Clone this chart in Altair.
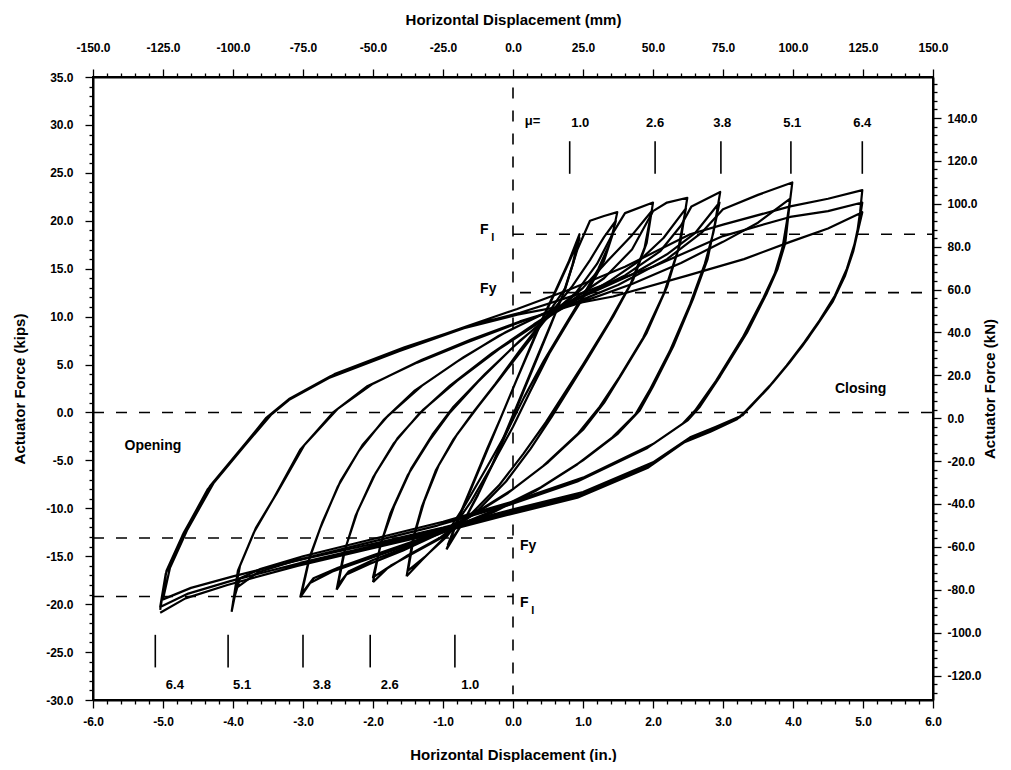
import altair as alt
import pandas as pd

# ---------------- hysteresis loops (displacement in., force kips) ----------------
# level mu=1.0 (+-0.95 in.)
L1_up_1 = [(-0.95,-14.3),(-0.8,-11.5),(-0.6,-8.0),(-0.4,-4.5),(-0.2,-1.0),(0.0,2.5),(0.2,6.0),(0.4,9.5),(0.6,12.6),(0.8,15.8),(0.95,18.6)]
L1_dn_1 = [(0.95,18.6),(0.85,15.4),(0.7,12.0),(0.5,8.5),(0.3,5.0),(0.1,1.5),(-0.1,-2.0),(-0.3,-5.5),(-0.5,-8.6),(-0.72,-11.6),(-0.93,-13.8)]
L1_up_2 = [(-0.93,-13.8),(-0.78,-11.0),(-0.58,-7.5),(-0.37,-3.8),(-0.16,-0.3),(0.04,3.2),(0.24,6.6),(0.44,10.0),(0.64,13.1),(0.82,16.0),(0.95,18.2)]
L1_dn_2 = [(0.95,18.2),(0.86,15.6),(0.73,12.6),(0.55,9.3),(0.36,5.9),(0.16,2.4),(-0.04,-1.2),(-0.25,-4.8),(-0.47,-8.1),(-0.7,-11.3),(-0.95,-14.3)]

# level +-1.5 in.
L2_up_1 = [(-1.52,-17.1),(-1.43,-13.2),(-1.3,-9.8),(-1.1,-6.0),(-0.85,-2.8),(-0.57,0.0),(-0.25,3.0),(0.1,6.5),(0.45,9.8),(0.75,13.0),(0.92,17.0),(1.1,20.0),(1.3,20.5),(1.49,20.9)]
L2_dn_1 = [(1.49,20.9),(1.42,18.5),(1.3,15.8),(1.1,13.1),(0.81,9.7),(0.53,6.3),(0.24,2.1),(0.0,-1.5),(-0.3,-5.5),(-0.6,-9.3),(-0.94,-12.9),(-1.25,-15.0),(-1.5,-16.5)]
L2_up_2 = [(-1.5,-16.5),(-1.41,-12.8),(-1.27,-9.3),(-1.06,-5.5),(-0.8,-2.3),(-0.5,0.6),(-0.18,3.6),(0.18,7.0),(0.52,10.2),(0.85,13.2),(1.1,15.9),(1.3,18.3),(1.47,20.0)]
L2_dn_2 = [(1.47,20.0),(1.38,17.6),(1.22,15.0),(1.0,12.2),(0.72,8.8),(0.44,5.4),(0.16,1.6),(-0.08,-1.9),(-0.38,-5.8),(-0.68,-9.6),(-1.0,-13.2),(-1.3,-15.4),(-1.52,-17.1)]

# level +-2.0 in.
L3_up_1 = [(-2.0,-17.7),(-1.9,-14.0),(-1.75,-10.5),(-1.5,-6.5),(-1.2,-3.0),(-0.9,0.0),(-0.5,3.2),(0.0,6.8),(0.5,10.0),(0.9,12.5),(1.2,15.5),(1.45,19.0),(1.6,20.8),(2.0,21.9)]
L3_dn_1 = [(2.0,21.9),(1.91,17.7),(1.72,13.9),(1.43,10.0),(1.06,5.5),(0.77,2.1),(0.55,-0.5),(0.25,-3.8),(-0.1,-7.2),(-0.5,-10.2),(-0.95,-12.8),(-1.4,-14.6),(-1.75,-16.0),(-2.0,-17.2)]
L3_up_2 = [(-2.0,-17.2),(-1.88,-13.5),(-1.7,-9.8),(-1.45,-5.8),(-1.15,-2.3),(-0.85,0.6),(-0.4,4.0),(0.1,7.5),(0.6,10.5),(1.0,13.0),(1.35,15.8),(1.7,18.5),(1.98,21.0)]
L3_dn_2 = [(1.98,21.0),(1.88,17.2),(1.68,13.4),(1.38,9.5),(1.0,5.0),(0.7,1.6),(0.47,-1.0),(0.15,-4.3),(-0.2,-7.6),(-0.6,-10.6),(-1.05,-13.1),(-1.5,-14.9),(-1.8,-16.3),(-2.0,-17.7)]

# level +-2.5 in.
L4_up_1 = [(-2.52,-18.5),(-2.42,-14.8),(-2.25,-10.8),(-2.0,-6.8),(-1.7,-3.2),(-1.35,-0.2),(-0.9,2.8),(-0.3,6.2),(0.3,9.2),(0.8,11.5),(1.3,14.0),(1.7,17.0),(2.0,21.0),(2.2,21.9),(2.49,22.4)]
L4_dn_1 = [(2.49,22.4),(2.39,17.7),(2.2,13.1),(1.91,8.3),(1.57,4.2),(1.3,1.0),(1.0,-1.8),(0.5,-5.2),(0.0,-8.0),(-0.5,-10.3),(-1.0,-12.3),(-1.5,-14.0),(-2.0,-15.4),(-2.35,-16.6),(-2.5,-18.0)]
L4_up_2 = [(-2.5,-18.0),(-2.4,-14.3),(-2.22,-10.3),(-1.96,-6.3),(-1.65,-2.7),(-1.28,0.3),(-0.8,3.3),(-0.2,6.6),(0.4,9.5),(0.9,11.7),(1.4,13.8),(1.8,15.8),(2.15,18.2),(2.47,21.3)]
L4_dn_2 = [(2.47,21.3),(2.36,17.0),(2.16,12.5),(1.86,7.8),(1.52,3.7),(1.24,0.6),(0.93,-2.2),(0.43,-5.6),(-0.07,-8.4),(-0.57,-10.7),(-1.07,-12.7),(-1.57,-14.4),(-2.05,-15.8),(-2.38,-16.9),(-2.52,-18.5)]

# level +-3.0 in.
L5_up_1 = [(-3.04,-19.3),(-2.92,-15.5),(-2.75,-12.0),(-2.5,-7.7),(-2.2,-4.0),(-1.85,-0.8),(-1.4,2.3),(-0.8,5.3),(-0.2,8.0),(0.4,10.2),(1.0,12.2),(1.6,14.3),(2.1,16.8),(2.4,19.5),(2.55,21.5),(2.96,23.0)]
L5_dn_1 = [(2.96,23.0),(2.88,19.5),(2.78,16.0),(2.57,11.8),(2.29,6.9),(2.0,2.7),(1.81,0.2),(1.5,-2.2),(1.0,-5.0),(0.4,-7.8),(-0.2,-10.0),(-0.8,-11.8),(-1.4,-13.4),(-2.0,-14.9),(-2.5,-16.2),(-2.85,-17.3),(-3.02,-18.9)]
L5_up_2 = [(-3.02,-18.9),(-2.9,-15.0),(-2.72,-11.4),(-2.46,-7.1),(-2.15,-3.4),(-1.78,-0.3),(-1.3,2.8),(-0.7,5.8),(-0.1,8.4),(0.5,10.5),(1.1,12.4),(1.7,14.4),(2.2,16.5),(2.6,18.7),(2.95,21.9)]
L5_dn_2 = [(2.95,21.9),(2.86,18.7),(2.74,15.5),(2.53,11.3),(2.24,6.4),(1.95,2.3),(1.75,-0.2),(1.42,-2.6),(0.92,-5.4),(0.32,-8.2),(-0.28,-10.4),(-0.88,-12.2),(-1.48,-13.8),(-2.08,-15.3),(-2.58,-16.6),(-2.9,-17.8),(-3.04,-19.3)]

# level +-4.0 in.
L6_up_1 = [(-4.02,-20.8),(-3.93,-16.5),(-3.7,-12.5),(-3.43,-9.1),(-3.04,-3.9),(-2.57,0.0),(-2.09,2.7),(-1.37,5.2),(-0.66,7.3),(0.06,9.3),(0.8,11.2),(1.5,13.3),(2.2,16.0),(2.7,18.8),(3.0,21.2),(3.5,22.7),(3.99,24.0)]
L6_dn_1 = [(3.99,24.0),(3.94,21.0),(3.89,17.7),(3.78,15.0),(3.63,12.5),(3.34,8.3),(2.96,3.8),(2.67,0.6),(2.5,-0.8),(2.0,-3.3),(1.0,-6.8),(0.0,-9.3),(-1.0,-11.4),(-2.0,-13.2),(-3.0,-15.0),(-3.6,-16.3),(-3.9,-17.3),(-4.0,-19.8)]
L6_up_2 = [(-4.0,-19.8),(-3.9,-16.0),(-3.67,-12.0),(-3.38,-8.5),(-2.98,-3.4),(-2.5,0.4),(-2.0,3.0),(-1.3,5.5),(-0.6,7.6),(0.1,9.5),(0.9,11.3),(1.7,13.4),(2.4,15.6),(3.0,17.8),(3.5,19.8),(3.96,22.3)]
L6_dn_2 = [(3.96,22.3),(3.91,19.8),(3.85,17.2),(3.74,14.5),(3.58,12.0),(3.28,7.8),(2.9,3.3),(2.6,0.2),(2.42,-1.2),(1.92,-3.7),(0.92,-7.2),(-0.08,-9.7),(-1.08,-11.8),(-2.08,-13.6),(-3.08,-15.4),(-3.65,-16.7),(-3.95,-18.3),(-4.02,-20.8)]

# level +-5.0 in.
L7_up_1 = [(-5.04,-20.6),(-4.95,-16.5),(-4.7,-12.5),(-4.33,-7.7),(-3.9,-3.9),(-3.5,-0.4),(-3.2,1.4),(-2.6,3.8),(-1.6,6.6),(-0.66,9.0),(0.06,10.8),(0.8,12.8),(1.6,15.2),(2.53,18.6),(3.0,19.6),(3.96,21.5),(4.5,22.3),(4.99,23.2)]
L7_dn_1 = [(4.99,23.2),(4.96,21.0),(4.91,18.4),(4.8,15.5),(4.63,12.5),(4.42,10.0),(4.2,7.6),(3.95,5.2),(3.71,3.1),(3.45,1.1),(3.28,-0.3),(2.9,-1.5),(2.53,-2.6),(2.0,-5.2),(1.0,-8.3),(0.0,-10.1),(-1.0,-12.0),(-2.0,-13.7),(-3.0,-15.3),(-4.0,-17.1),(-4.6,-18.3),(-5.0,-19.5)]
L7_up_2 = [(-5.0,-19.5),(-4.9,-16.2),(-4.65,-12.2),(-4.28,-7.4),(-3.85,-3.6),(-3.45,-0.2),(-3.15,1.6),(-2.55,4.0),(-1.55,6.8),(-0.6,9.1),(0.1,10.4),(1.0,12.5),(2.0,15.2),(3.0,18.4),(3.96,20.4),(4.5,21.0),(4.99,21.9)]
L7_dn_2 = [(4.99,21.9),(4.95,20.0),(4.88,17.6),(4.77,15.0),(4.6,12.2),(4.38,9.6),(4.16,7.3),(3.91,4.9),(3.67,2.8),(3.41,0.8),(3.24,-0.5),(2.86,-1.8),(2.49,-2.9),(1.96,-5.5),(0.96,-8.6),(-0.04,-10.4),(-1.04,-12.3),(-2.04,-14.0),(-3.04,-15.7),(-4.04,-17.6),(-4.64,-18.9),(-5.04,-20.3)]
L7_up_3 = [(-5.04,-20.3),(-4.96,-16.8),(-4.72,-12.8),(-4.36,-8.0),(-3.93,-4.2),(-3.53,-0.6),(-3.23,1.2),(-2.63,3.6),(-1.63,6.4),(-0.7,8.8),(0.06,10.2),(1.43,12.1),(2.5,14.3),(3.3,16.0),(3.96,17.8),(4.5,19.2),(4.99,20.9)]
L7_dn_3 = [(4.99,20.9),(4.93,19.0),(4.86,16.8),(4.74,14.2),(4.57,11.6),(4.35,9.2),(4.13,6.9),(3.88,4.6),(3.64,2.5),(3.38,0.5),(3.2,-0.7),(2.82,-2.0),(2.45,-3.1),(1.92,-5.8),(0.92,-8.9),(-0.08,-10.7),(-1.08,-12.6),(-2.08,-14.3),(-3.08,-16.0),(-4.08,-18.0),(-4.68,-19.4),(-5.04,-20.9)]

loops = {
    "L1": [L1_up_1, L1_dn_1, L1_up_2, L1_dn_2],
    "L2": [L2_up_1, L2_dn_1, L2_up_2, L2_dn_2],
    "L3": [L3_up_1, L3_dn_1, L3_up_2, L3_dn_2],
    "L4": [L4_up_1, L4_dn_1, L4_up_2, L4_dn_2],
    "L5": [L5_up_1, L5_dn_1, L5_up_2, L5_dn_2],
    "L6": [L6_up_1, L6_dn_1, L6_up_2, L6_dn_2],
    "L7": [L7_up_1, L7_dn_1, L7_up_2, L7_dn_2, L7_up_3, L7_dn_3],
}

# reference (dashed) lines: x1, x2, y1, y2
dash_x1 = [0.0, -6.0, 0.0, 0.1, -6.0, -6.0]
dash_x2 = [0.0, 6.0, 6.0, 6.0, 0.0, 0.0]
dash_y1 = [33.9, 0.0, 18.6, 12.5, -13.1, -19.2]
dash_y2 = [-29.4, 0.0, 18.6, 12.5, -13.1, -19.2]

# ductility markers
mu_labels = ["1.0", "2.6", "3.8", "5.1", "6.4"]
mu_top_line_x = [0.81, 2.03, 2.97, 3.97, 4.99]
mu_top_text_x = [0.96, 2.03, 2.99, 3.99, 4.99]
mu_bot_labels = ["6.4", "5.1", "3.8", "2.6", "1.0"]
mu_bot_line_x = [-5.11, -4.07, -3.0, -2.04, -0.83]
mu_bot_text_x = [-4.83, -3.87, -2.73, -1.76, -0.61]

# axis tick values
x_in_ticks = [round(-6 + 0.2 * k, 1) for k in range(61)]
x_mm_ticks = [-150 + 5 * k for k in range(61)]
y_kip_ticks = [-30 + k for k in range(66)]
y_kn_ticks = [-132 + 4 * k for k in range(74)]
KN_PER_KIP = 4.47
KN_ZERO_SHIFT = 0.6   # kN axis zero sits slightly below the kips zero in the original

rows = []
for name, parts in loops.items():
    i = 0
    for part in parts:
        for d, f in part:
            rows.append({"loop": name, "i": i, "d": d, "f": f})
            i += 1
loop_df = pd.DataFrame(rows)

FONT = "Liberation Sans"
xs = alt.Scale(domain=[-6, 6], nice=False, zero=False)
ys = alt.Scale(domain=[-30, 35], nice=False, zero=False)


def lab(test):
    return f"{test} ? replace(format(datum.value, '.1f'), '\u2212', '-') : ''"


x_axis = alt.Axis(
    values=x_in_ticks, title="Horizontal Displacement (in.)",
    labelExpr=lab("abs(datum.value - round(datum.value)) < 0.001"),
    tickSize={"condition": {"test": "abs(datum.value - round(datum.value)) < 0.001", "value": 8}, "value": 4},
    labelPadding=8, titlePadding=20, labelFlush=False, labelOverlap=False,
)
y_axis = alt.Axis(
    values=y_kip_ticks, title="Actuator Force (kips)",
    labelExpr=lab("datum.value % 5 === 0"),
    tickSize={"condition": {"test": "datum.value % 5 === 0", "value": 8}, "value": 4},
    labelPadding=12, titlePadding=18, labelFlush=False, labelOverlap=False,
)


def X(field):
    return alt.X(field, scale=xs, axis=x_axis)


def Y(field):
    return alt.Y(field, scale=ys, axis=y_axis)


loops_layer = alt.Chart(loop_df).mark_line(color="black", strokeWidth=2.2, strokeJoin="round").encode(
    x=X("d:Q"), y=Y("f:Q"), detail="loop:N", order="i:Q",
)

dash_df = pd.DataFrame({"x1": dash_x1, "x2": dash_x2, "y1": dash_y1, "y2": dash_y2})
dash_layer = alt.Chart(dash_df).mark_rule(color="black", strokeWidth=1.6, strokeDash=[11, 12]).encode(
    x=X("x1:Q"), x2="x2:Q", y=Y("y1:Q"), y2="y2:Q"
)

marks_df = pd.DataFrame({
    "x": mu_top_line_x + mu_bot_line_x,
    "y1": [28.3] * 5 + [-23.2] * 5,
    "y2": [24.9] * 5 + [-26.6] * 5,
})
mu_lines = alt.Chart(marks_df).mark_rule(color="black", strokeWidth=1.6).encode(
    x=X("x:Q"), y=Y("y1:Q"), y2="y2:Q"
)

text_df = pd.DataFrame({
    "x": mu_top_text_x + mu_bot_text_x + [0.28],
    "y": [30.2] * 5 + [-28.4] * 5 + [30.4],
    "t": mu_labels + mu_bot_labels + ["\u03bc="],
})
mu_text = alt.Chart(text_df).mark_text(font=FONT, fontSize=13, fontWeight="bold", color="black").encode(
    x=X("x:Q"), y=Y("y:Q"), text="t:N"
)

ann_df = pd.DataFrame({
    "x": [-0.47, -0.47, 0.1, 0.1, -5.55, 4.6],
    "y": [19.0, 12.9, -13.9, -19.9, -3.5, 2.4],
    "t": ["F", "Fy", "Fy", "F", "Opening", "Closing"],
})
ann_text = alt.Chart(ann_df).mark_text(font=FONT, fontSize=14, fontWeight="bold", color="black", align="left").encode(
    x=X("x:Q"), y=Y("y:Q"), text="t:N"
)
sub_df = pd.DataFrame({"x": [-0.31, 0.26], "y": [18.2, -20.7], "t": ["l", "l"]})
sub_text = alt.Chart(sub_df).mark_text(font=FONT, fontSize=11, fontWeight="bold", color="black", align="left").encode(
    x=X("x:Q"), y=Y("y:Q"), text="t:N"
)

main = alt.layer(loops_layer, dash_layer, mu_lines, mu_text, ann_text, sub_text)

top_df = pd.DataFrame({"mm": [-150, 150]})
top_layer = alt.Chart(top_df).mark_point(opacity=0).encode(
    x=alt.X("mm:Q", scale=alt.Scale(domain=[-150, 150], nice=False, zero=False),
            axis=alt.Axis(orient="top", values=x_mm_ticks, title="Horizontal Displacement (mm)",
                          labelExpr=lab("datum.value % 25 === 0"),
                          tickSize={"condition": {"test": "datum.value % 25 === 0", "value": 8}, "value": 4},
                          labelPadding=15, titlePadding=14, labelFlush=False, labelOverlap=False))
)

kn_lo = (-30 + KN_ZERO_SHIFT) * KN_PER_KIP
kn_hi = (35 + KN_ZERO_SHIFT) * KN_PER_KIP
right_df = pd.DataFrame({"kn": [kn_lo, kn_hi]})
right_layer = alt.Chart(right_df).mark_point(opacity=0).encode(
    y=alt.Y("kn:Q", scale=alt.Scale(domain=[kn_lo, kn_hi], nice=False, zero=False),
            axis=alt.Axis(orient="right", values=y_kn_ticks, title="Actuator Force (kN)",
                          labelExpr=lab("datum.value % 20 === 0"),
                          tickSize={"condition": {"test": "datum.value % 20 === 0", "value": 8}, "value": 4},
                          labelPadding=6, titlePadding=16, titleAngle=270, labelFlush=False, labelOverlap=False))
)

chart = alt.layer(main, top_layer, right_layer).resolve_scale(
    x="independent", y="independent"
).properties(
    width=840, height=623,
    autosize=alt.AutoSizeParams(type="none"),
    padding={"left": 85, "top": 69, "right": 70, "bottom": 62},
).configure_axis(
    labelFont=FONT, labelFontSize=12, labelFontWeight="bold", labelColor="black",
    titleFont=FONT, titleFontSize=15, titleFontWeight="bold", titleColor="black",
    domainColor="black", domainWidth=2, tickColor="black", tickWidth=1.3, grid=False,
).configure_view(stroke="black", strokeWidth=2)

chart.save("out.html", embed_options={"renderer": "svg", "actions": False})
